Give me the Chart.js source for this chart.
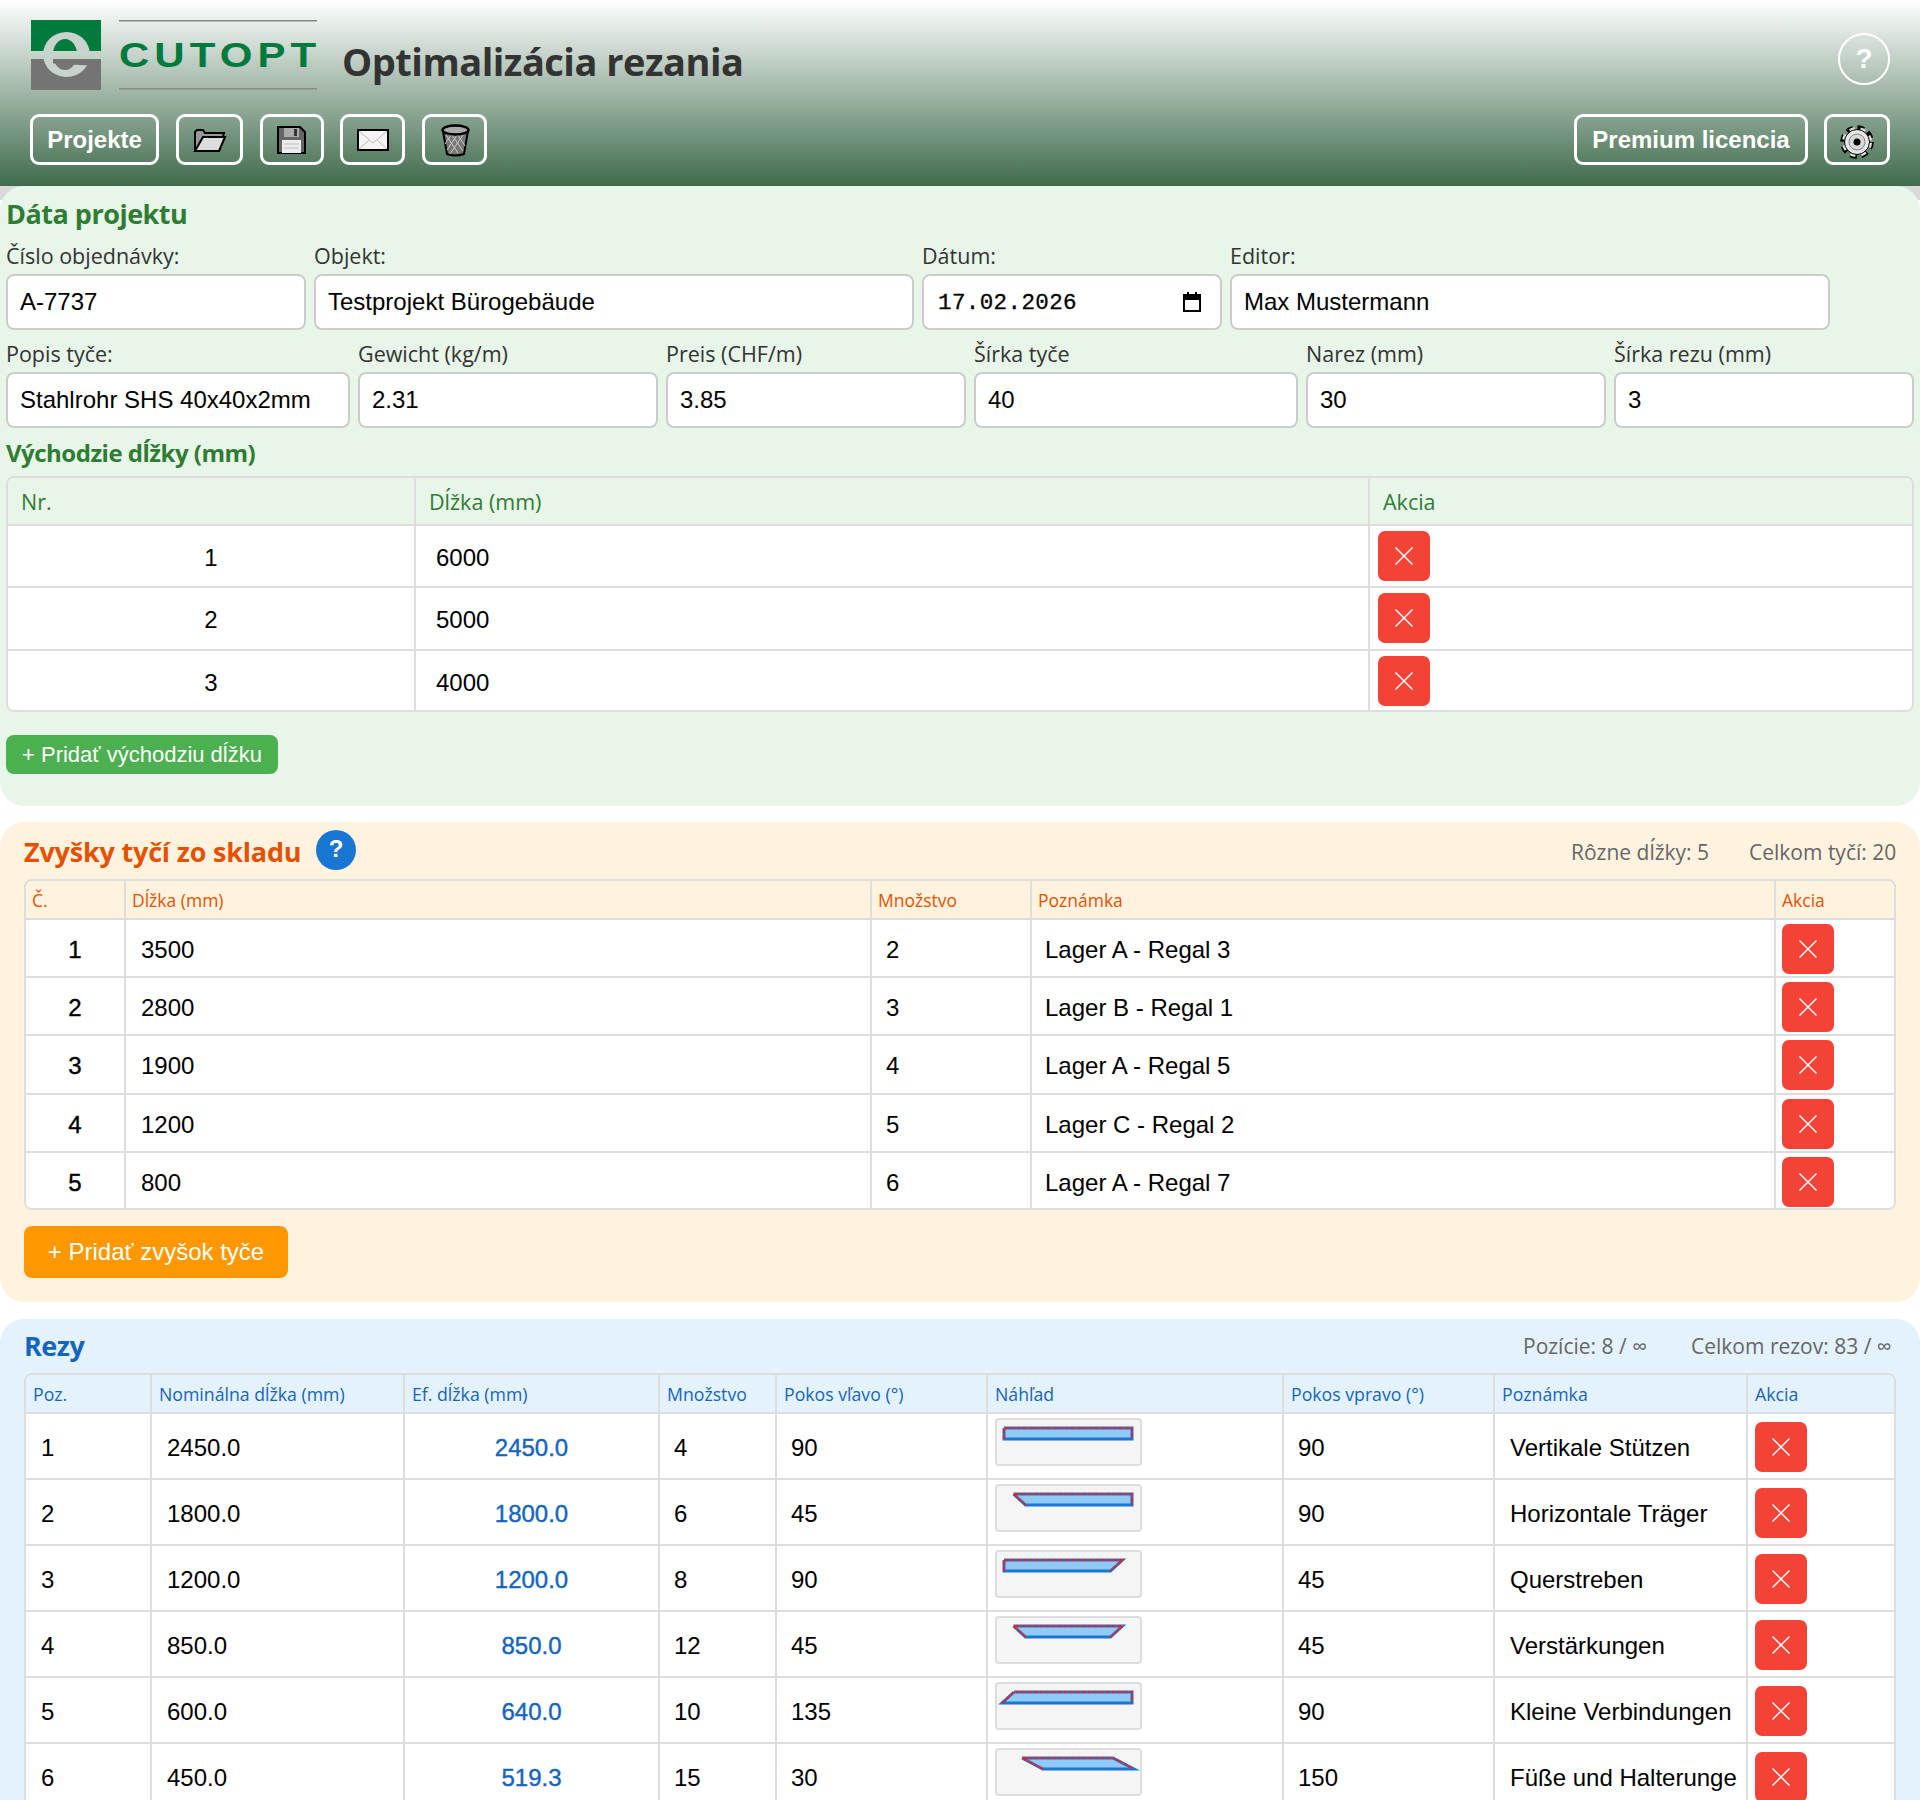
<!DOCTYPE html>
<html lang="sk">
<head>
<meta charset="utf-8">
<title>Optimalizácia rezania</title>
<script src="https://cdn.jsdelivr.net/npm/chart.js@4"></script>
<style>
html, body { margin: 0; padding: 0; background: #fff; }
body { width: 1920px; height: 1800px; overflow: hidden; position: relative; font-family: "Open Sans", sans-serif; }
.abs { position: absolute; white-space: nowrap; }
#header { left: 0; top: 0; width: 1920px; height: 186px; background: linear-gradient(#fff, #3f6b4c); }
.hbtn { position: absolute; top: 114px; height: 45px; border: 3px solid #fff; border-radius: 9px; color: #fff; font: bold 24px "Liberation Sans", sans-serif; text-align: center; line-height: 45px; }
.panel { position: absolute; left: 0; width: 1920px; border-radius: 24px; }
.lbl { position: absolute; font-size: 21.5px; color: #333; line-height: 26px; white-space: nowrap; }
.inp { position: absolute; box-sizing: border-box; height: 56px; background: #fff; border: 2px solid #ccc; border-radius: 8px; font: 24px/52px "Liberation Sans", sans-serif; color: #000; padding-left: 12px; white-space: nowrap; }
.tw { position: absolute; box-sizing: border-box; border: 2px solid #ddd; border-radius: 8px; overflow: hidden; background: #fff; }
table { border-collapse: collapse; table-layout: fixed; position: absolute; left: -2px; top: -2px; }
th, td { border: 2px solid #ddd; padding: 0; white-space: nowrap; overflow: hidden; text-align: left; box-sizing: border-box; }
th { font-weight: 500; }
td { font: 24px "Liberation Sans", sans-serif; color: #000; background: #fff; position: relative; padding-top: 4px; }
.del { position: absolute; width: 52px; height: 50px; background: #f44336; border-radius: 7px; }
.del svg { position: absolute; left: 16px; top: 15px; }
.h2 { position: absolute; font-weight: 700; font-size: 27px; letter-spacing: -0.5px; line-height: 34px; white-space: nowrap; }
.stat { position: absolute; font-size: 21px; color: #666; line-height: 28px; white-space: nowrap; }
.add { position: absolute; color: #fff; font-family: "Liberation Sans", sans-serif; text-align: center; border-radius: 8px; }
.nahlad { position: absolute; left: 7px; top: 4px; width: 147px; height: 48px; box-sizing: border-box; background: #f5f5f5; border: 2px solid #ddd; border-radius: 4px; }
.nahlad canvas { position: absolute; left: -2px; top: -2px; }
</style>
</head>
<body>
<div id="page"></div>
<script>
// zadanie projektu
var projektPolia1 = [['Číslo objednávky:', 'A-7737', 6, 300], ['Objekt:', 'Testprojekt Bürogebäude', 314, 600], ['Dátum:', '17.02.2026', 922, 300], ['Editor:', 'Max Mustermann', 1230, 600]];
var projektPolia2 = [['Popis tyče:', 'Stahlrohr SHS 40x40x2mm', 6, 344], ['Gewicht (kg/m)', '2.31', 358, 300], ['Preis (CHF/m)', '3.85', 666, 300], ['Šírka tyče', '40', 974, 324], ['Narez (mm)', '30', 1306, 300], ['Šírka rezu (mm)', '3', 1614, 300]];

// vychodzie dlzky
var vychodzieNr = [1, 2, 3];
var vychodzieDlzky = [6000, 5000, 4000];

// zvysky
var zvyskyDlzky = [3500, 2800, 1900, 1200, 800];
var zvyskyMnozstvo = [2, 3, 4, 5, 6];
var zvyskyPoznamka = ['Lager A - Regal 3', 'Lager B - Regal 1', 'Lager A - Regal 5', 'Lager C - Regal 2', 'Lager A - Regal 7'];

// rezy
var rezyNominal = ['2450.0', '1800.0', '1200.0', '850.0', '600.0', '450.0'];
var rezyEfektivna = ['2450.0', '1800.0', '1200.0', '850.0', '640.0', '519.3'];
var rezyMnozstvo = [4, 6, 8, 12, 10, 15];
var rezyVlavo = [90, 45, 90, 45, 135, 30];
var rezyVpravo = [90, 90, 45, 45, 90, 150];
var rezyPoznamka = ['Vertikale Stützen', 'Horizontale Träger', 'Querstreben', 'Verstärkungen', 'Kleine Verbindungen', 'Füße und Halterunge'];

// profil v nahlade, hodnoty odcitane z obrazku
var profilHoreVlavo = [9, 18.5, 9, 18.5, 19, 27];
var profilHoreVpravo = [137, 137, 127.5, 127.5, 137, 118];
var profilDoleVlavo = [9, 30.5, 9, 30.5, 7, 47.8];
var profilDoleVpravo = [137, 137, 115.5, 115.5, 137, 139];
var profilHore = 10;
var profilDole = 21;

var X = '<svg width="20" height="20" viewBox="0 0 20 20"><path d="M1.5 1.5L18.5 18.5M18.5 1.5L1.5 18.5" stroke="#fff" stroke-width="1.5"/></svg>';

function del(left, top) {
    return '<div class="del" style="left:' + left + 'px;top:' + top + 'px">' + X + '</div>';
}

function headerHtml() {
    var h = '<div class="abs" id="header"></div>';
    h += '<svg class="abs" style="left:0;top:0" width="340" height="186" viewBox="0 0 340 186">' +
        '<defs><clipPath id="logoClip"><rect x="0" y="0" width="200" height="51"/><rect x="0" y="0" width="53" height="100"/><path d="M53 63.5L90 65.5V100H53Z"/></clipPath></defs>' +
        '<rect x="31" y="20" width="70" height="31" fill="#007a3d"/><rect x="31" y="59" width="70" height="31" fill="#747474"/>' +
        '<path clip-path="url(#logoClip)" fill="#c8d3cc" fill-rule="evenodd" d="M43 54.5a23.5 22.5 0 1 0 47 0a23.5 22.5 0 1 0 -47 0ZM53 54.5a12 15.5 0 1 0 24 0a12 15.5 0 1 0 -24 0Z"/>' +
        '<rect x="119" y="20" width="198" height="1.5" fill="#848a85"/><rect x="119" y="88" width="198" height="1.5" fill="#848a85"/></svg>';
    h += '<div class="abs" style="left:119px;top:35px;font:bold 35px \'Liberation Sans\',sans-serif;letter-spacing:4.2px;color:#007a3d;transform:scaleX(1.2);transform-origin:0 0">CUTOPT</div>';
    h += '<div class="abs" style="left:342px;top:35px;font-size:38px;font-weight:700;letter-spacing:-0.5px;color:#333">Optimalizácia rezania</div>';
    h += '<div class="abs" style="left:1838px;top:33px;width:48px;height:48px;border:2.5px solid #fff;border-radius:50%;color:#fff;font:bold 28px/48px \'Liberation Sans\',sans-serif;text-align:center">?</div>';
    h += '<div class="hbtn" style="left:30px;width:123px">Projekte</div>';
    h += '<div class="hbtn" style="left:176px;width:61px"></div>';
    h += '<div class="hbtn" style="left:260px;width:58px"></div>';
    h += '<div class="hbtn" style="left:340px;width:59px"></div>';
    h += '<div class="hbtn" style="left:422px;width:59px"></div>';
    h += '<svg class="abs" style="left:0;top:0" width="520" height="186" viewBox="0 0 520 186">' +
        '<path d="M195 151V132L197 130H203L205 133H224L219 151Z" fill="#999" stroke="#000" stroke-width="2"/><path d="M195 151L203 137H225L219 151Z" fill="#ddd" stroke="#000" stroke-width="2"/>' +
        '<path d="M278 127H300L305 132V153H278Z" fill="#666" stroke="#000" stroke-width="2"/><rect x="284" y="128" width="15" height="9" fill="#aaa"/><rect x="294" y="129" width="3" height="7" fill="#333"/><rect x="282" y="140" width="19" height="13" fill="#eee"/><path d="M284 144H299M284 148H299" stroke="#bbb"/>' +
        '<rect x="358" y="130" width="30" height="20" fill="#f4f4f4" stroke="#000" stroke-width="2"/><path d="M359 131L373 143L387 131M359 149L369 140M387 149L377 140" fill="none" stroke="#bbb"/>' +
        '<path d="M443 131L447 154Q455 157 464 154L468 131Z" fill="#777" stroke="#000" stroke-width="2"/><path d="M446 135L458 153M452 135L463 151M458 135L465 146M463 135L450 154M457 135L447 150M451 135L445 144" stroke="#ccc" fill="none"/>' +
        '<ellipse cx="455.5" cy="130" rx="13" ry="4.5" fill="#aaa" stroke="#000" stroke-width="2.5"/></svg>';
    h += '<div class="hbtn" style="left:1574px;width:228px">Premium licencia</div>';
    h += '<div class="hbtn" style="left:1824px;width:60px"><svg style="position:absolute;left:12px;top:7px" width="36" height="36" viewBox="0 0 36 36"><circle cx="18" cy="18" r="14" fill="none" stroke="#000" stroke-width="5.5" stroke-dasharray="6.5 4.5"/><circle cx="18" cy="18" r="13.5" fill="none" stroke="#e6e6e6" stroke-width="3" stroke-dasharray="5 6" stroke-dashoffset="-0.75"/><circle cx="18" cy="18" r="12.5" fill="#e6e6e6" stroke="#000" stroke-width="1"/><circle cx="18" cy="18" r="8" fill="#d8d8d8" stroke="#888"/><circle cx="18" cy="18" r="3.5" fill="#000"/></svg></div>';
    return h;
}

function poleHtml(polia, lblTop, inpTop) {
    var h = '';
    polia.forEach(function(p) {
        h += '<div class="lbl" style="left:' + p[2] + 'px;top:' + lblTop + 'px">' + p[0] + '</div>';
        var extra = p[1] === '17.02.2026' ? ';font-family:\'Liberation Mono\',monospace;font-size:22.5px;line-height:55px;letter-spacing:0.4px;-webkit-text-stroke:0.3px #000;padding-left:14px' : '';
        h += '<div class="inp" style="left:' + p[2] + 'px;top:' + inpTop + 'px;width:' + p[3] + 'px' + extra + '">' + p[1] + '</div>';
    });
    return h;
}

function tabulka(left, top, width, height, stlpce, hlavy, hlavaH, riadky, riadokH, hStyl) {
    var h = '<div class="tw" style="left:' + left + 'px;top:' + top + 'px;width:' + width + 'px;height:' + height + 'px"><table style="width:' + width + 'px"><colgroup>';
    stlpce.forEach(function(s) { h += '<col style="width:' + s + 'px">'; });
    h += '</colgroup><tr style="height:' + hlavaH + 'px">';
    hlavy.forEach(function(t) { h += '<th style="' + hStyl + '">' + t + '</th>'; });
    h += '</tr>';
    riadky.forEach(function(r) {
        h += '<tr style="height:' + riadokH + 'px">';
        r.forEach(function(c) { h += '<td style="' + (c.s || '') + '">' + c.t + '</td>'; });
        h += '</tr>';
    });
    return h + '</table></div>';
}

var html = headerHtml();

// zelena cast
html += '<div class="abs" style="left:0;top:186px;width:1920px;height:14px;background:#d9d9d9"></div>';
html += '<div class="panel" style="top:186px;height:620px;background:#e8f5e9"></div>';
html += '<div class="h2" style="left:6px;top:197px;color:#2e7d32">Dáta projektu</div>';
html += poleHtml(projektPolia1, 243, 274);
html += poleHtml(projektPolia2, 341, 372);
html += '<svg class="abs" style="left:1181px;top:291px" width="22" height="22" viewBox="0 0 22 22"><path d="M3 4H19V20H3Z" fill="none" stroke="#000" stroke-width="2"/><rect x="3" y="4" width="16" height="5"/><rect x="6" y="1" width="2" height="4"/><rect x="14" y="1" width="2" height="4"/></svg>';
html += '<div class="h2" style="left:6px;top:436px;font-size:24px;color:#2e7d32">Východzie dĺžky (mm)</div>';
var riadky1 = vychodzieNr.map(function(n, i) {
    return [{ t: n, s: 'text-align:center' }, { t: vychodzieDlzky[i], s: 'padding-left:20px' }, { t: del(8, 5) }];
});
html += tabulka(6, 476, 1908, 236, [408, 954, 546], ['Nr.', 'Dĺžka (mm)', 'Akcia'], 48, riadky1, 62.3, 'font-size:21.5px;color:#2e7d32;background:#e8f5e9;padding-left:13px');
html += '<div class="add" style="left:6px;top:735px;width:272px;height:39px;line-height:39px;font-size:22px;background:#4caf50">+ Pridať východziu dĺžku</div>';

// oranzova cast
html += '<div class="panel" style="top:822px;height:480px;background:#fff3e0"></div>';
html += '<div class="h2" style="left:24px;top:835px;letter-spacing:-0.2px;color:#e65100">Zvyšky tyčí zo skladu</div>';
html += '<div class="abs" style="left:316px;top:830px;width:40px;height:40px;border-radius:50%;background:#1976d2;color:#fff;font:bold 24px/38px \'Liberation Sans\',sans-serif;text-align:center">?</div>';
html += '<div class="stat" style="left:1571px;top:838px">Rôzne dĺžky: 5</div>';
html += '<div class="stat" style="left:1749px;top:838px">Celkom tyčí: 20</div>';
var riadky2 = zvyskyDlzky.map(function(d, i) {
    return [{ t: i + 1, s: 'text-align:center;-webkit-text-stroke:0.4px #000' }, { t: d, s: 'padding-left:15px' }, { t: zvyskyMnozstvo[i], s: 'padding-left:14px' }, { t: zvyskyPoznamka[i], s: 'padding-left:13px' }, { t: del(6, 4) }];
});
html += tabulka(24, 879, 1872, 331, [100, 746, 160, 744, 122], ['Č.', 'Dĺžka (mm)', 'Množstvo', 'Poznámka', 'Akcia'], 39, riadky2, 58.2, 'font-size:17.5px;color:#e65100;background:#fff3e0;padding-left:6px');
html += '<div class="add" style="left:24px;top:1226px;width:264px;height:52px;line-height:52px;font-size:24px;background:#ff9800">+ Pridať zvyšok tyče</div>';

// modra cast
html += '<div class="panel" style="top:1319px;height:520px;background:#e3f2fd"></div>';
html += '<div class="h2" style="left:24px;top:1329px;color:#1565c0">Rezy</div>';
html += '<div class="stat" style="left:1523px;top:1332px">Pozície: 8 / ∞</div>';
html += '<div class="stat" style="left:1691px;top:1332px">Celkom rezov: 83 / ∞</div>';
var riadky3 = rezyNominal.map(function(d, i) {
    return [
        { t: i + 1, s: 'padding-left:15px' }, { t: d, s: 'padding-left:15px' },
        { t: rezyEfektivna[i], s: 'text-align:center;color:#1565c0;-webkit-text-stroke:0.4px #1565c0' },
        { t: rezyMnozstvo[i], s: 'padding-left:14px' }, { t: rezyVlavo[i], s: 'padding-left:14px' },
        { t: '<div class="nahlad"><canvas id="nahlad' + i + '" width="147" height="48"></canvas></div>' },
        { t: rezyVpravo[i], s: 'padding-left:14px' },
        { t: rezyPoznamka[i], s: 'padding-left:15px' },
        { t: del(7, 8) }
    ];
});
html += tabulka(24, 1373, 1872, 470, [126, 253, 255, 117, 211, 296, 211, 253, 150], ['Poz.', 'Nominálna dĺžka (mm)', 'Ef. dĺžka (mm)', 'Množstvo', 'Pokos vľavo (°)', 'Náhľad', 'Pokos vpravo (°)', 'Poznámka', 'Akcia'], 39, riadky3, 66, 'font-size:17.7px;color:#1565c0;background:#e3f2fd;padding-left:7px');

document.getElementById('page').innerHTML = html;

// nahlady rezu, prvy dataset sa kresli navrchu
rezyNominal.forEach(function(d, i) {
    var obrys = [
        { x: profilHoreVlavo[i], y: profilHore }, { x: profilHoreVpravo[i], y: profilHore },
        { x: profilDoleVpravo[i], y: profilDole }, { x: profilDoleVlavo[i], y: profilDole },
        { x: profilHoreVlavo[i], y: profilHore }
    ];
    var hrana = [
        { x: profilDoleVlavo[i], y: profilDole }, { x: profilHoreVlavo[i], y: profilHore },
        { x: profilHoreVpravo[i], y: profilHore }, { x: profilDoleVpravo[i], y: profilDole }
    ];
    new Chart(document.getElementById('nahlad' + i).getContext('2d'), {
        type: 'scatter',
        data: {
            datasets: [
                { data: hrana, showLine: true, fill: false, borderColor: '#ff1a1a', borderWidth: 2, borderDash: [4, 2], pointRadius: 0, tension: 0, clip: false },
                { data: obrys, showLine: true, fill: 'shape', backgroundColor: '#90caf9', borderColor: '#1976d2', borderWidth: 3, pointRadius: 0, tension: 0, clip: false }
            ]
        },
        options: {
            responsive: false,
            animation: false,
            devicePixelRatio: 1,
            layout: { padding: 0 },
            plugins: { legend: { display: false }, tooltip: { enabled: false } },
            scales: {
                x: { type: 'linear', display: false, min: 0, max: 147 },
                y: { type: 'linear', display: false, min: 0, max: 48, reverse: true }
            }
        }
    });
});
</script>
</body>
</html>
